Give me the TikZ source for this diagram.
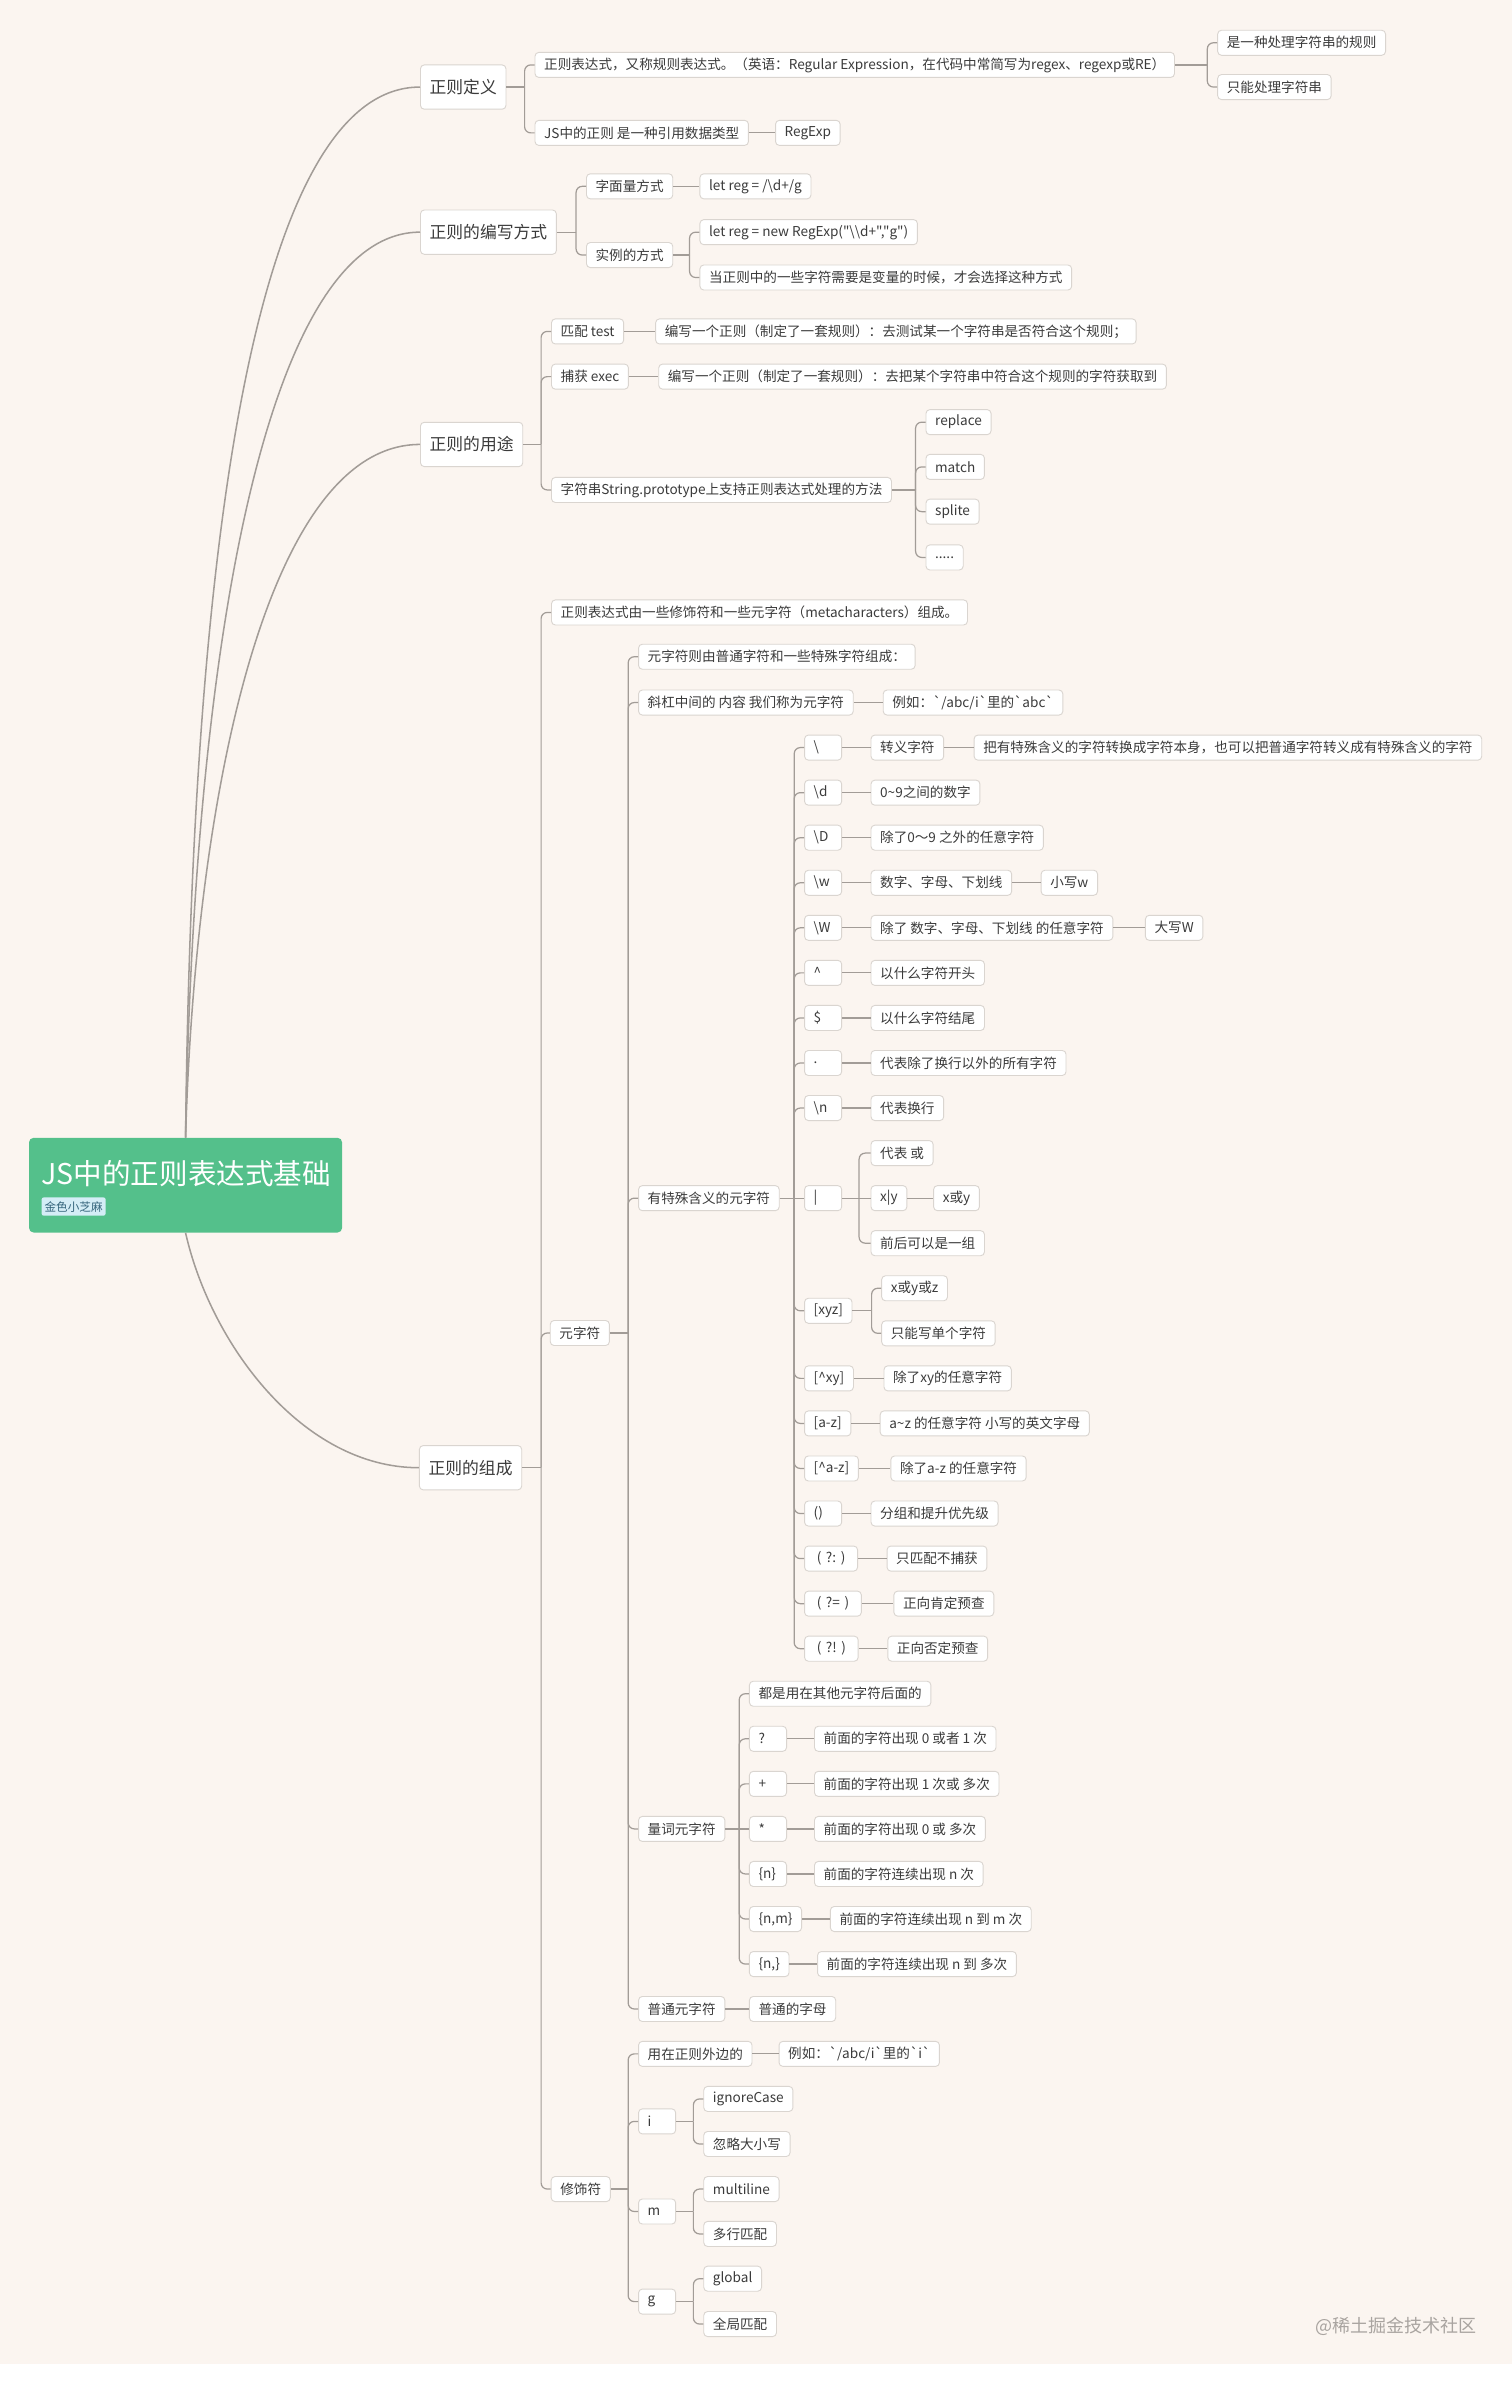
\documentclass[tikz,border=0pt]{standalone}
\usepackage{fontspec}
\newfontfamily\mainf{Noto Sans CJK SC}
\definecolor{bgcol}{HTML}{FBF5F0}
\definecolor{boxline}{HTML}{DAD5D0}
\definecolor{lncol}{HTML}{A29C97}
\definecolor{txt}{HTML}{3B3B3B}
\definecolor{rootgreen}{HTML}{54C08B}
\definecolor{tagfill}{HTML}{D4EDF6}
\definecolor{tagtxt}{HTML}{35657C}
\definecolor{wmcol}{HTML}{A9A4A0}
\tikzset{
  nbox/.style={draw=boxline, fill=white, rounded corners=2.5pt, line width=0.6pt,
    inner xsep=6pt, inner ysep=0pt, minimum height=16.4pt, anchor=west,
    font=\mainf\fontsize{8.9}{10}\selectfont, text=txt},
  sbox/.style={nbox, text width=12.3pt, align=left},
  pbox/.style={nbox, inner xsep=8pt},
  lbox/.style={nbox, minimum height=29pt, font=\mainf\fontsize{11}{13}\selectfont},
  conn/.style={draw=lncol, line width=0.8pt},
  curve/.style={draw=lncol, line width=1pt},
}
\newcommand\frk[3]{%
  \draw[conn] (#1.east) -- (#1.east -| #2);
  \foreach \kid in {#3} {\draw[conn, rounded corners=4pt] (#1.east -| #2) |- (\kid.west);}
}
\newcommand\lnk[2]{\draw[conn] (#1.east) -- (#2.west);}
\begin{document}
\begin{tikzpicture}[x=1pt,y=-1pt]
\useasboundingbox (0,0) rectangle (990,1559);
\fill[white] (0,0) rectangle (990,1559);
\fill[bgcol] (0,0) rectangle (990,1548);

% root
\node[fill=rootgreen, rounded corners=3pt, minimum width=205pt, minimum height=62pt, inner sep=0pt] (root) at (121.5,776) {};
\node[anchor=west, inner sep=0pt, text=white, font=\mainf\fontsize{18.7}{22}\selectfont] (title) at (27,768.5) {JS中的正则表达式基础};
\node[anchor=west, fill=tagfill, text=tagtxt, rounded corners=1.5pt, inner xsep=2pt, inner ysep=0pt, minimum height=12pt, font=\mainf\fontsize{7.6}{9}\selectfont] (tag) at (27,790) {金色小芝麻};

% level 1
\node[lbox] (def) at (275,57) {正则定义};
\node[lbox] (write) at (275,152) {正则的编写方式};
\node[lbox] (use) at (275,291) {正则的用途};
\node[lbox] (comp) at (274.3,961) {正则的组成};

% definition
\node[nbox] (d1) at (350,42.5) {正则表达式，又称规则表达式。（英语：Regular Expression，在代码中常简写为regex、regexp或RE）};
\node[nbox] (d1a) at (797,28) {是一种处理字符串的规则};
\node[nbox] (d1b) at (797,57) {只能处理字符串};
\node[nbox] (d2) at (350,87) {JS中的正则 是一种引用数据类型};
\node[nbox] (d2a) at (507.5,87) {RegExp};

% writing
\node[nbox] (w1) at (383.7,122) {字面量方式};
\node[nbox] (w1a) at (458,122) {let reg = /\textbackslash d+/g};
\node[nbox] (w2) at (383.7,167) {实例的方式};
\node[nbox] (w2a) at (458,152) {let reg = new RegExp("\textbackslash\textbackslash d+","g")};
\node[nbox] (w2b) at (458,181.7) {当正则中的一些字符需要是变量的时候，才会选择这种方式};

% use
\node[nbox] (u1) at (360.8,217) {匹配 test};
\node[nbox] (u1a) at (429,217) {编写一个正则（制定了一套规则）：去测试某一个字符串是否符合这个规则；};
\node[nbox] (u2) at (360.8,246.6) {捕获 exec};
\node[nbox] (u2a) at (431,246.6) {编写一个正则（制定了一套规则）：去把某个字符串中符合这个规则的字符获取到};
\node[nbox] (u3) at (360.8,320.8) {字符串String.prototype上支持正则表达式处理的方法};
\node[nbox] (u3a) at (606,276.4) {replace};
\node[nbox] (u3b) at (606,305.7) {match};
\node[nbox] (u3c) at (606,335) {splite};
\node[nbox] (u3d) at (606,365) {.....};

% composition
\node[nbox] (c1) at (360.8,401) {正则表达式由一些修饰符和一些元字符（metacharacters）组成。};
\node[nbox] (c2) at (360,872.8) {元字符};
\node[nbox] (c3) at (360.6,1433.3) {修饰符};

\node[nbox] (m1) at (417.8,430) {元字符则由普通字符和一些特殊字符组成：};
\node[nbox] (m2) at (417.8,460) {斜杠中间的 内容 我们称为元字符};
\node[nbox] (m2a) at (578,460) {例如：`/abc/i`里的`abc`};
\node[nbox] (m3) at (417.8,784.5) {有特殊含义的元字符};
\node[nbox] (m4) at (417.8,1197.5) {量词元字符};
\node[nbox] (m5) at (417.8,1315.4) {普通元字符};
\node[nbox] (m5a) at (490.4,1315.4) {普通的字母};

% special meta characters
\node[sbox] (s1) at (526.5,489.5) {\textbackslash};
\node[nbox] (s1a) at (570,489.5) {转义字符};
\node[nbox] (s1b) at (637.5,489.5) {把有特殊含义的字符转换成字符本身，也可以把普通字符转义成有特殊含义的字符};
\node[sbox] (s2) at (526.5,519) {\textbackslash d};
\node[nbox] (s2a) at (570,519) {0\textasciitilde 9之间的数字};
\node[sbox] (s3) at (526.5,548.5) {\textbackslash D};
\node[nbox] (s3a) at (570,548.5) {除了0～9 之外的任意字符};
\node[sbox] (s4) at (526.5,578) {\textbackslash w};
\node[nbox] (s4a) at (570,578) {数字、字母、下划线};
\node[nbox] (s4b) at (681.4,578) {小写w};
\node[sbox] (s5) at (526.5,607.5) {\textbackslash W};
\node[nbox] (s5a) at (570,607.5) {除了 数字、字母、下划线 的任意字符};
\node[nbox] (s5b) at (749.7,607.5) {大写W};
\node[sbox] (s6) at (526.5,637) {\textasciicircum};
\node[nbox] (s6a) at (570,637) {以什么字符开头};
\node[sbox] (s7) at (526.5,666.5) {\$};
\node[nbox] (s7a) at (570,666.5) {以什么字符结尾};
\node[sbox] (s8) at (526.5,696) {.};
\node[nbox] (s8a) at (570,696) {代表除了换行以外的所有字符};
\node[sbox] (s9) at (526.5,725.5) {\textbackslash n};
\node[nbox] (s9a) at (570,725.5) {代表换行};
\node[sbox] (s10) at (526.5,784.5) {|};
\node[nbox] (s10a) at (570,755) {代表 或};
\node[nbox] (s10b) at (570,784.5) {x|y};
\node[nbox] (s10c) at (611,784.5) {x或y};
\node[nbox] (s10d) at (570,814) {前后可以是一组};
\node[nbox] (s11) at (526.5,858.25) {[xyz]};
\node[nbox] (s11a) at (577,843.5) {x或y或z};
\node[nbox] (s11b) at (577,873) {只能写单个字符};
\node[nbox] (s12) at (526.5,902.5) {[\textasciicircum xy]};
\node[nbox] (s12a) at (578.5,902.5) {除了xy的任意字符};
\node[nbox] (s13) at (526.5,932) {[a-z]};
\node[nbox] (s13a) at (576,932) {a\textasciitilde z 的任意字符 小写的英文字母};
\node[nbox] (s14) at (526.5,961.5) {[\textasciicircum a-z]};
\node[nbox] (s14a) at (583,961.5) {除了a-z 的任意字符};
\node[sbox] (s15) at (526.5,991) {()};
\node[nbox] (s15a) at (570,991) {分组和提升优先级};
\node[pbox] (s16) at (526.5,1020.5) {(\hspace{3pt}?:\hspace{3pt})};
\node[nbox] (s16a) at (580.5,1020.5) {只匹配不捕获};
\node[pbox] (s17) at (526.5,1050) {(\hspace{3pt}?=\hspace{3pt})};
\node[nbox] (s17a) at (585,1050) {正向肯定预查};
\node[pbox] (s18) at (526.5,1079.5) {(\hspace{3pt}?!\hspace{3pt})};
\node[nbox] (s18a) at (581,1079.5) {正向否定预查};

% quantifiers
\node[nbox] (q0) at (490.4,1109) {都是用在其他元字符后面的};
\node[sbox] (q1) at (490.4,1138.5) {?};
\node[nbox] (q1a) at (533,1138.5) {前面的字符出现 0 或者 1 次};
\node[sbox] (q2) at (490.4,1168) {+};
\node[nbox] (q2a) at (533,1168) {前面的字符出现 1 次或 多次};
\node[sbox] (q3) at (490.4,1197.5) {*};
\node[nbox] (q3a) at (533,1197.5) {前面的字符出现 0 或 多次};
\node[sbox] (q4) at (490.4,1227) {\{n\}};
\node[nbox] (q4a) at (533,1227) {前面的字符连续出现 n 次};
\node[nbox] (q5) at (490.4,1256.5) {\{n,m\}};
\node[nbox] (q5a) at (543.4,1256.5) {前面的字符连续出现 n 到 m 次};
\node[nbox] (q6) at (490.4,1286) {\{n,\}};
\node[nbox] (q6a) at (535,1286) {前面的字符连续出现 n 到 多次};

% modifiers
\node[nbox] (f1) at (417.8,1344.8) {用在正则外边的};
\node[nbox] (f1a) at (509.8,1344.8) {例如：`/abc/i`里的`i`};
\node[sbox] (fi) at (417.8,1389) {i};
\node[nbox] (fi1) at (460.5,1374.3) {ignoreCase};
\node[nbox] (fi2) at (460.5,1403.8) {忽略大小写};
\node[sbox] (fm) at (417.8,1448) {m};
\node[nbox] (fm1) at (460.5,1433.3) {multiline};
\node[nbox] (fm2) at (460.5,1462.7) {多行匹配};
\node[sbox] (fg) at (417.8,1507) {g};
\node[nbox] (fg1) at (460.5,1492) {global};
\node[nbox] (fg2) at (460.5,1521.7) {全局匹配};

% watermark
\node[anchor=west, inner sep=0pt, text=wmcol, font=\mainf\fontsize{11.8}{14}\selectfont] (wm) at (861,1523) {@稀土掘金技术社区};

% trunk coordinates
\coordinate (Tdef) at (343.5,0);
\coordinate (Td1) at (790.5,0);
\coordinate (Twrite) at (377.2,0);
\coordinate (Tw2) at (451.5,0);
\coordinate (Tuse) at (354.3,0);
\coordinate (Tu3) at (599.5,0);
\coordinate (Tcomp) at (354.3,0);
\coordinate (Tc2) at (411.3,0);
\coordinate (Tm3) at (520,0);
\coordinate (Ts10) at (562.5,0);
\coordinate (Ts11) at (570.7,0);
\coordinate (Tm4) at (484,0);
\coordinate (Tc3) at (411.3,0);
\coordinate (Tf) at (454,0);

% root curves
\draw[curve] (root.north) .. controls (126,330) and (172,57) .. (def.west);
\draw[curve] (root.north) .. controls (127,420) and (175,152) .. (write.west);
\draw[curve] (root.north) .. controls (128,520) and (175,291) .. (use.west);
\draw[curve] (root.south) .. controls (138,880) and (198,961) .. (comp.west);

% connectors
\frk{def}{Tdef}{d1,d2}
\frk{d1}{Td1}{d1a,d1b}
\lnk{d2}{d2a}
\frk{write}{Twrite}{w1,w2}
\lnk{w1}{w1a}
\frk{w2}{Tw2}{w2a,w2b}
\frk{use}{Tuse}{u1,u2,u3}
\lnk{u1}{u1a}
\lnk{u2}{u2a}
\frk{u3}{Tu3}{u3a,u3b,u3c,u3d}
\frk{comp}{Tcomp}{c1,c2,c3}
\frk{c2}{Tc2}{m1,m2,m3,m4,m5}
\lnk{m2}{m2a}
\frk{m3}{Tm3}{s1,s2,s3,s4,s5,s6,s7,s8,s9,s11,s12,s13,s14,s15,s16,s17,s18}
\lnk{m3}{s10}
\lnk{s1}{s1a}\lnk{s1a}{s1b}
\lnk{s2}{s2a}
\lnk{s3}{s3a}
\lnk{s4}{s4a}\lnk{s4a}{s4b}
\lnk{s5}{s5a}\lnk{s5a}{s5b}
\lnk{s6}{s6a}
\lnk{s7}{s7a}
\lnk{s8}{s8a}
\lnk{s9}{s9a}
\frk{s10}{Ts10}{s10a,s10d}
\lnk{s10}{s10b}\lnk{s10b}{s10c}
\frk{s11}{Ts11}{s11a,s11b}
\lnk{s12}{s12a}
\lnk{s13}{s13a}
\lnk{s14}{s14a}
\lnk{s15}{s15a}
\lnk{s16}{s16a}
\lnk{s17}{s17a}
\lnk{s18}{s18a}
\frk{m4}{Tm4}{q0,q1,q2,q4,q5,q6}
\lnk{m4}{q3}
\lnk{q1}{q1a}
\lnk{q2}{q2a}
\lnk{q3}{q3a}
\lnk{q4}{q4a}
\lnk{q5}{q5a}
\lnk{q6}{q6a}
\lnk{m5}{m5a}
\frk{c3}{Tc3}{f1,fi,fm,fg}
\lnk{f1}{f1a}
\frk{fi}{Tf}{fi1,fi2}
\frk{fm}{Tf}{fm1,fm2}
\frk{fg}{Tf}{fg1,fg2}
\end{tikzpicture}
\end{document}
